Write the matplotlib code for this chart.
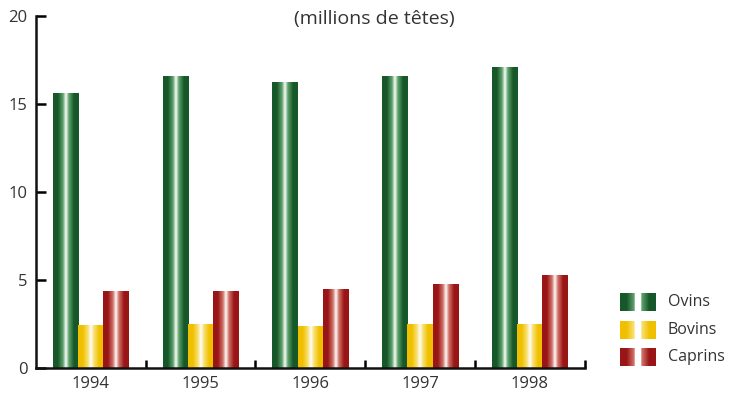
import numpy as np
import matplotlib
matplotlib.use("Agg")
import matplotlib.pyplot as plt
from matplotlib.colors import LinearSegmentedColormap

years = ["1994", "1995", "1996", "1997", "1998"]
ovins = [15.6, 16.6, 16.25, 16.6, 17.1]
bovins = [2.45, 2.5, 2.4, 2.5, 2.5]
caprins = [4.4, 4.4, 4.5, 4.8, 5.3]
series_names = ["Ovins", "Bovins", "Caprins"]
y_ticks = [0, 5, 10, 15, 20]

plt.rcParams["font.family"] = ["Open Sans", "DejaVu Sans"]


def stripe_cmap(dark, mid):
    stops = [(0.0, dark), (0.18, dark), (0.38, mid), (0.5, "white"),
             (0.62, mid), (0.82, dark), (1.0, dark)]
    return LinearSegmentedColormap.from_list("s", stops)


cmaps = [stripe_cmap("#17582a", "#5a9f68"),
         stripe_cmap("#f0c000", "#f8e070"),
         stripe_cmap("#9a1515", "#cf7066")]

fig = plt.figure(figsize=(7.42, 4.05), dpi=100)
ax = fig.add_axes([0.0485, 0.0914, 0.7395, 0.8691])

x = np.arange(len(years))
w = 0.23
grad = np.linspace(0, 1, 64).reshape(1, -1)
for k, vals in enumerate([ovins, bovins, caprins]):
    bars = ax.bar(x + (k - 1) * w, vals, w, color="none", edgecolor="none")
    for b in bars:
        x0, h = b.get_x(), b.get_height()
        im = ax.imshow(grad, cmap=cmaps[k], aspect="auto",
                       extent=(x0, x0 + w, 0, h), zorder=2,
                       interpolation="bilinear")
        im.set_clip_path(b)

ax.set_xlim(-0.5, 4.5)
ax.set_ylim(0, 20)
ax.set_yticks(y_ticks)
ax.set_yticklabels([str(t) for t in y_ticks], fontsize=12, color="#333333")
ax.set_xticks(x + 0.5)
ax.set_xticklabels([])
ax.tick_params(axis="y", direction="in", length=7, width=1.8, pad=6)
ax.tick_params(axis="x", direction="in", length=6, width=1.8)
for i, yr in enumerate(years):
    ax.text(x[i], -0.45, yr, ha="center", va="top", fontsize=12, color="#333333")
for s in ["top", "right"]:
    ax.spines[s].set_visible(False)
for s in ["left", "bottom"]:
    ax.spines[s].set_linewidth(1.8)
    ax.spines[s].set_color("#111111")

fig.text(0.505, 0.953, "(millions de têtes)", ha="center", va="center",
         fontsize=14, color="#333333")

# legend: two gradient blocks per series
leg_y = [0.254, 0.185, 0.118]
for k, name in enumerate(series_names):
    lax = fig.add_axes([0.835, leg_y[k] - 0.022, 0.048, 0.044])
    lax.imshow(grad, cmap=cmaps[k], aspect="auto", extent=(0, 1, 0, 1),
               interpolation="bilinear")
    lax.axvspan(0.44, 0.56, color="white")
    lax.set_xlim(0, 1)
    lax.set_ylim(0, 1)
    lax.axis("off")
    fig.text(0.9, leg_y[k], name, ha="left", va="center", fontsize=11.5,
             color="#333333")

fig.savefig("out.png", dpi=100)
